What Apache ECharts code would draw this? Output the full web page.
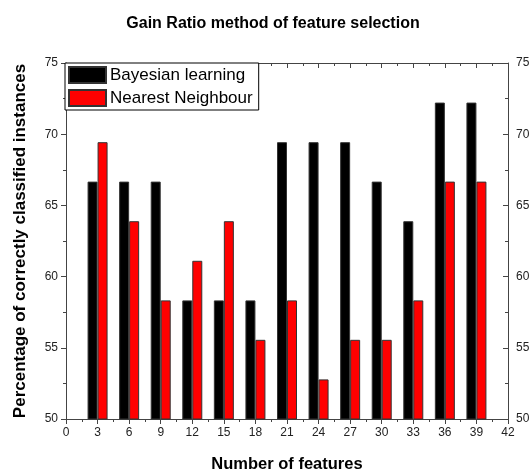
<!DOCTYPE html>
<html>
<head>
<meta charset="utf-8">
<script src="https://cdn.jsdelivr.net/npm/echarts@6/dist/echarts.min.js"></script>
<style>html,body{margin:0;padding:0;background:#fff}#c{width:530px;height:472px}</style>
</head>
<body>
<div id="c"></div>
<script>
var features = [3, 6, 9, 12, 15, 18, 21, 24, 27, 30, 33, 36, 39];
var bayesian = [66.67, 66.67, 66.67, 58.33, 58.33, 58.33, 69.44, 69.44, 69.44, 66.67, 63.89, 72.22, 72.22];
var nearest = [69.44, 63.89, 58.33, 61.11, 63.89, 55.56, 58.33, 52.78, 55.56, 55.56, 58.33, 66.67, 66.67];

function pairs(vals) { return features.map(function (f, i) { return [f, vals[i]]; }); }

var chart = echarts.init(document.getElementById('c'));
var axisCol = '#444';
var font = 'Liberation Sans, Arial, sans-serif';
chart.setOption({
  animation: false,
  title: {
    text: 'Gain Ratio method of feature selection',
    left: 268, top: 11, textAlign: 'center',
    textStyle: { fontSize: 16, fontWeight: 'bold', color: '#000', fontFamily: font }
  },
  legend: {
    orient: 'vertical', left: 65, top: 63,
    itemWidth: 37, itemHeight: 16, itemGap: 5,
    borderColor: '#000', borderWidth: 1, borderRadius: 0,
    padding: [3, 6, 3, 3], backgroundColor: '#fff',
    icon: 'rect',
    textStyle: { fontSize: 17, color: '#000', fontFamily: font, padding: [0, 0, 0, -1] },
    data: ['Bayesian learning', 'Nearest Neighbour']
  },
  grid: { left: 66, right: 22, top: 63, bottom: 53, outerBoundsMode: 'none', containLabel: false },
  xAxis: [{
    type: 'value', min: 0, max: 42, interval: 3,
    name: 'Number of features', nameLocation: 'middle', nameGap: 37,
    nameTextStyle: { fontSize: 16.5, fontWeight: 'bold', color: '#000', fontFamily: font },
    axisLine: { lineStyle: { color: axisCol } },
    axisTick: { length: 5, lineStyle: { color: axisCol } },
    minorTick: { show: true, splitNumber: 2, length: 3, lineStyle: { color: axisCol } },
    axisLabel: { fontSize: 12, color: '#222', margin: 8, fontFamily: font },
    splitLine: { show: false }
  }, {
    type: 'value', min: 0, max: 42, interval: 3, position: 'top',
    axisLine: { show: true, onZero: false, lineStyle: { color: axisCol } },
    axisTick: { inside: true, length: 5, lineStyle: { color: axisCol } },
    minorTick: { show: true, splitNumber: 2, length: 3, lineStyle: { color: axisCol } },
    axisLabel: { show: false },
    splitLine: { show: false }
  }],
  yAxis: [{
    type: 'value', min: 50, max: 75, interval: 5,
    name: 'Percentage of correctly classified instances', nameLocation: 'middle', nameGap: 37,
    nameTextStyle: { fontSize: 17, fontWeight: 'bold', color: '#000', fontFamily: font },
    axisLine: { show: true, lineStyle: { color: axisCol } },
    axisTick: { show: true, length: 5, lineStyle: { color: axisCol } },
    minorTick: { show: true, splitNumber: 2, length: 3, lineStyle: { color: axisCol } },
    axisLabel: { fontSize: 12, color: '#222', margin: 8, fontFamily: font },
    splitLine: { show: false }
  }, {
    type: 'value', min: 50, max: 75, interval: 5, position: 'right',
    axisLine: { show: true, onZero: false, lineStyle: { color: axisCol } },
    axisTick: { show: true, inside: true, length: 5, lineStyle: { color: axisCol } },
    minorTick: { show: true, splitNumber: 2, length: 3, lineStyle: { color: axisCol } },
    axisLabel: { fontSize: 12, color: '#222', margin: 8, fontFamily: font },
    splitLine: { show: false }
  }],
  series: [{
    name: 'Bayesian learning', type: 'bar', data: pairs(bayesian),
    barWidth: 10, barGap: '0%',
    itemStyle: { color: '#000', borderColor: '#333', borderWidth: 1 }
  }, {
    name: 'Nearest Neighbour', type: 'bar', data: pairs(nearest),
    barWidth: 10, barGap: '0%',
    itemStyle: { color: '#ff0000', borderColor: '#333', borderWidth: 1 }
  }]
});
</script>
</body>
</html>
